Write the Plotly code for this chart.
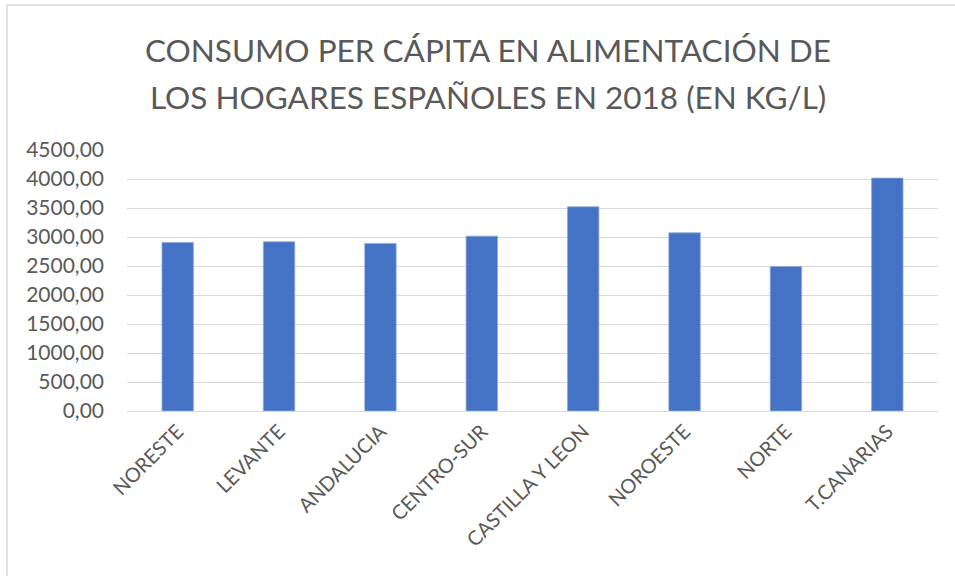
import plotly.graph_objects as go

categories = ["NORESTE", "LEVANTE", "ANDALUCIA", "CENTRO-SUR", "CASTILLA Y LEON",
              "NOROESTE", "NORTE", "T.CANARIAS"]
values = [2907, 2917, 2889, 3015, 3521, 3072, 2492, 4016]
y_ticks = [0, 500, 1000, 1500, 2000, 2500, 3000, 3500, 4000, 4500]
title_lines = ["CONSUMO PER CÁPITA EN ALIMENTACIÓN DE",
               "LOS HOGARES ESPAÑOLES EN 2018 (EN KG/L)"]

W, H = 955, 576
ML, MR, MT, MB = 127, 17, 150, 165

fig = go.Figure(go.Bar(
    x=categories, y=values,
    marker=dict(color="#4472C4", line=dict(color="#8FAADC", width=0.8)),
))

pw = W - ML - MR
ph = H - MT - MB
def px2paper_x(px):
    return (px - ML) / pw
def px2paper_y(py):
    return (H - MB - py) / ph

FONT = "Lato, Open Sans, sans-serif"

annotations = [
    dict(text=line, xref="paper", yref="paper",
         x=px2paper_x(488), y=px2paper_y(yc), xanchor="center", yanchor="middle",
         showarrow=False, font=dict(size=31.5, color="#595959", family=FONT))
    for line, yc in zip(title_lines, [50, 97])
]

fig.update_layout(
    width=W, height=H,
    margin=dict(l=ML, r=MR, t=MT, b=MB, autoexpand=False),
    paper_bgcolor="white", plot_bgcolor="white",
    separators=", ",
    bargap=0.69,
    font=dict(family=FONT, color="#595959"),
    annotations=annotations,
    xaxis=dict(
        tickangle=-45, tickfont=dict(size=20, color="#595959"),
        showgrid=False, showline=True, linecolor="#D9D9D9", linewidth=1,
        ticks="", automargin=False,
    ),
    yaxis=dict(
        range=[0, 4500], tickvals=y_ticks, tickformat=".2f",
        tickfont=dict(size=21, color="#595959"),
        showgrid=True, gridcolor="#D9D9D9", gridwidth=1,
        zeroline=False, showline=False, ticks="", automargin=False,
        ticklabelstandoff=22,
    ),
    showlegend=False,
    shapes=[dict(
        type="rect", xref="paper", yref="paper",
        x0=px2paper_x(7), x1=px2paper_x(W + 5),
        y0=px2paper_y(H + 5), y1=px2paper_y(5),
        line=dict(color="#D9D9D9", width=1.5), fillcolor="rgba(0,0,0,0)",
        layer="below",
    )],
)

fig.write_html(
    "out.html",
    config={"displayModeBar": False},
    post_script="document.body.style.margin='0';document.body.style.overflow='hidden';",
)
